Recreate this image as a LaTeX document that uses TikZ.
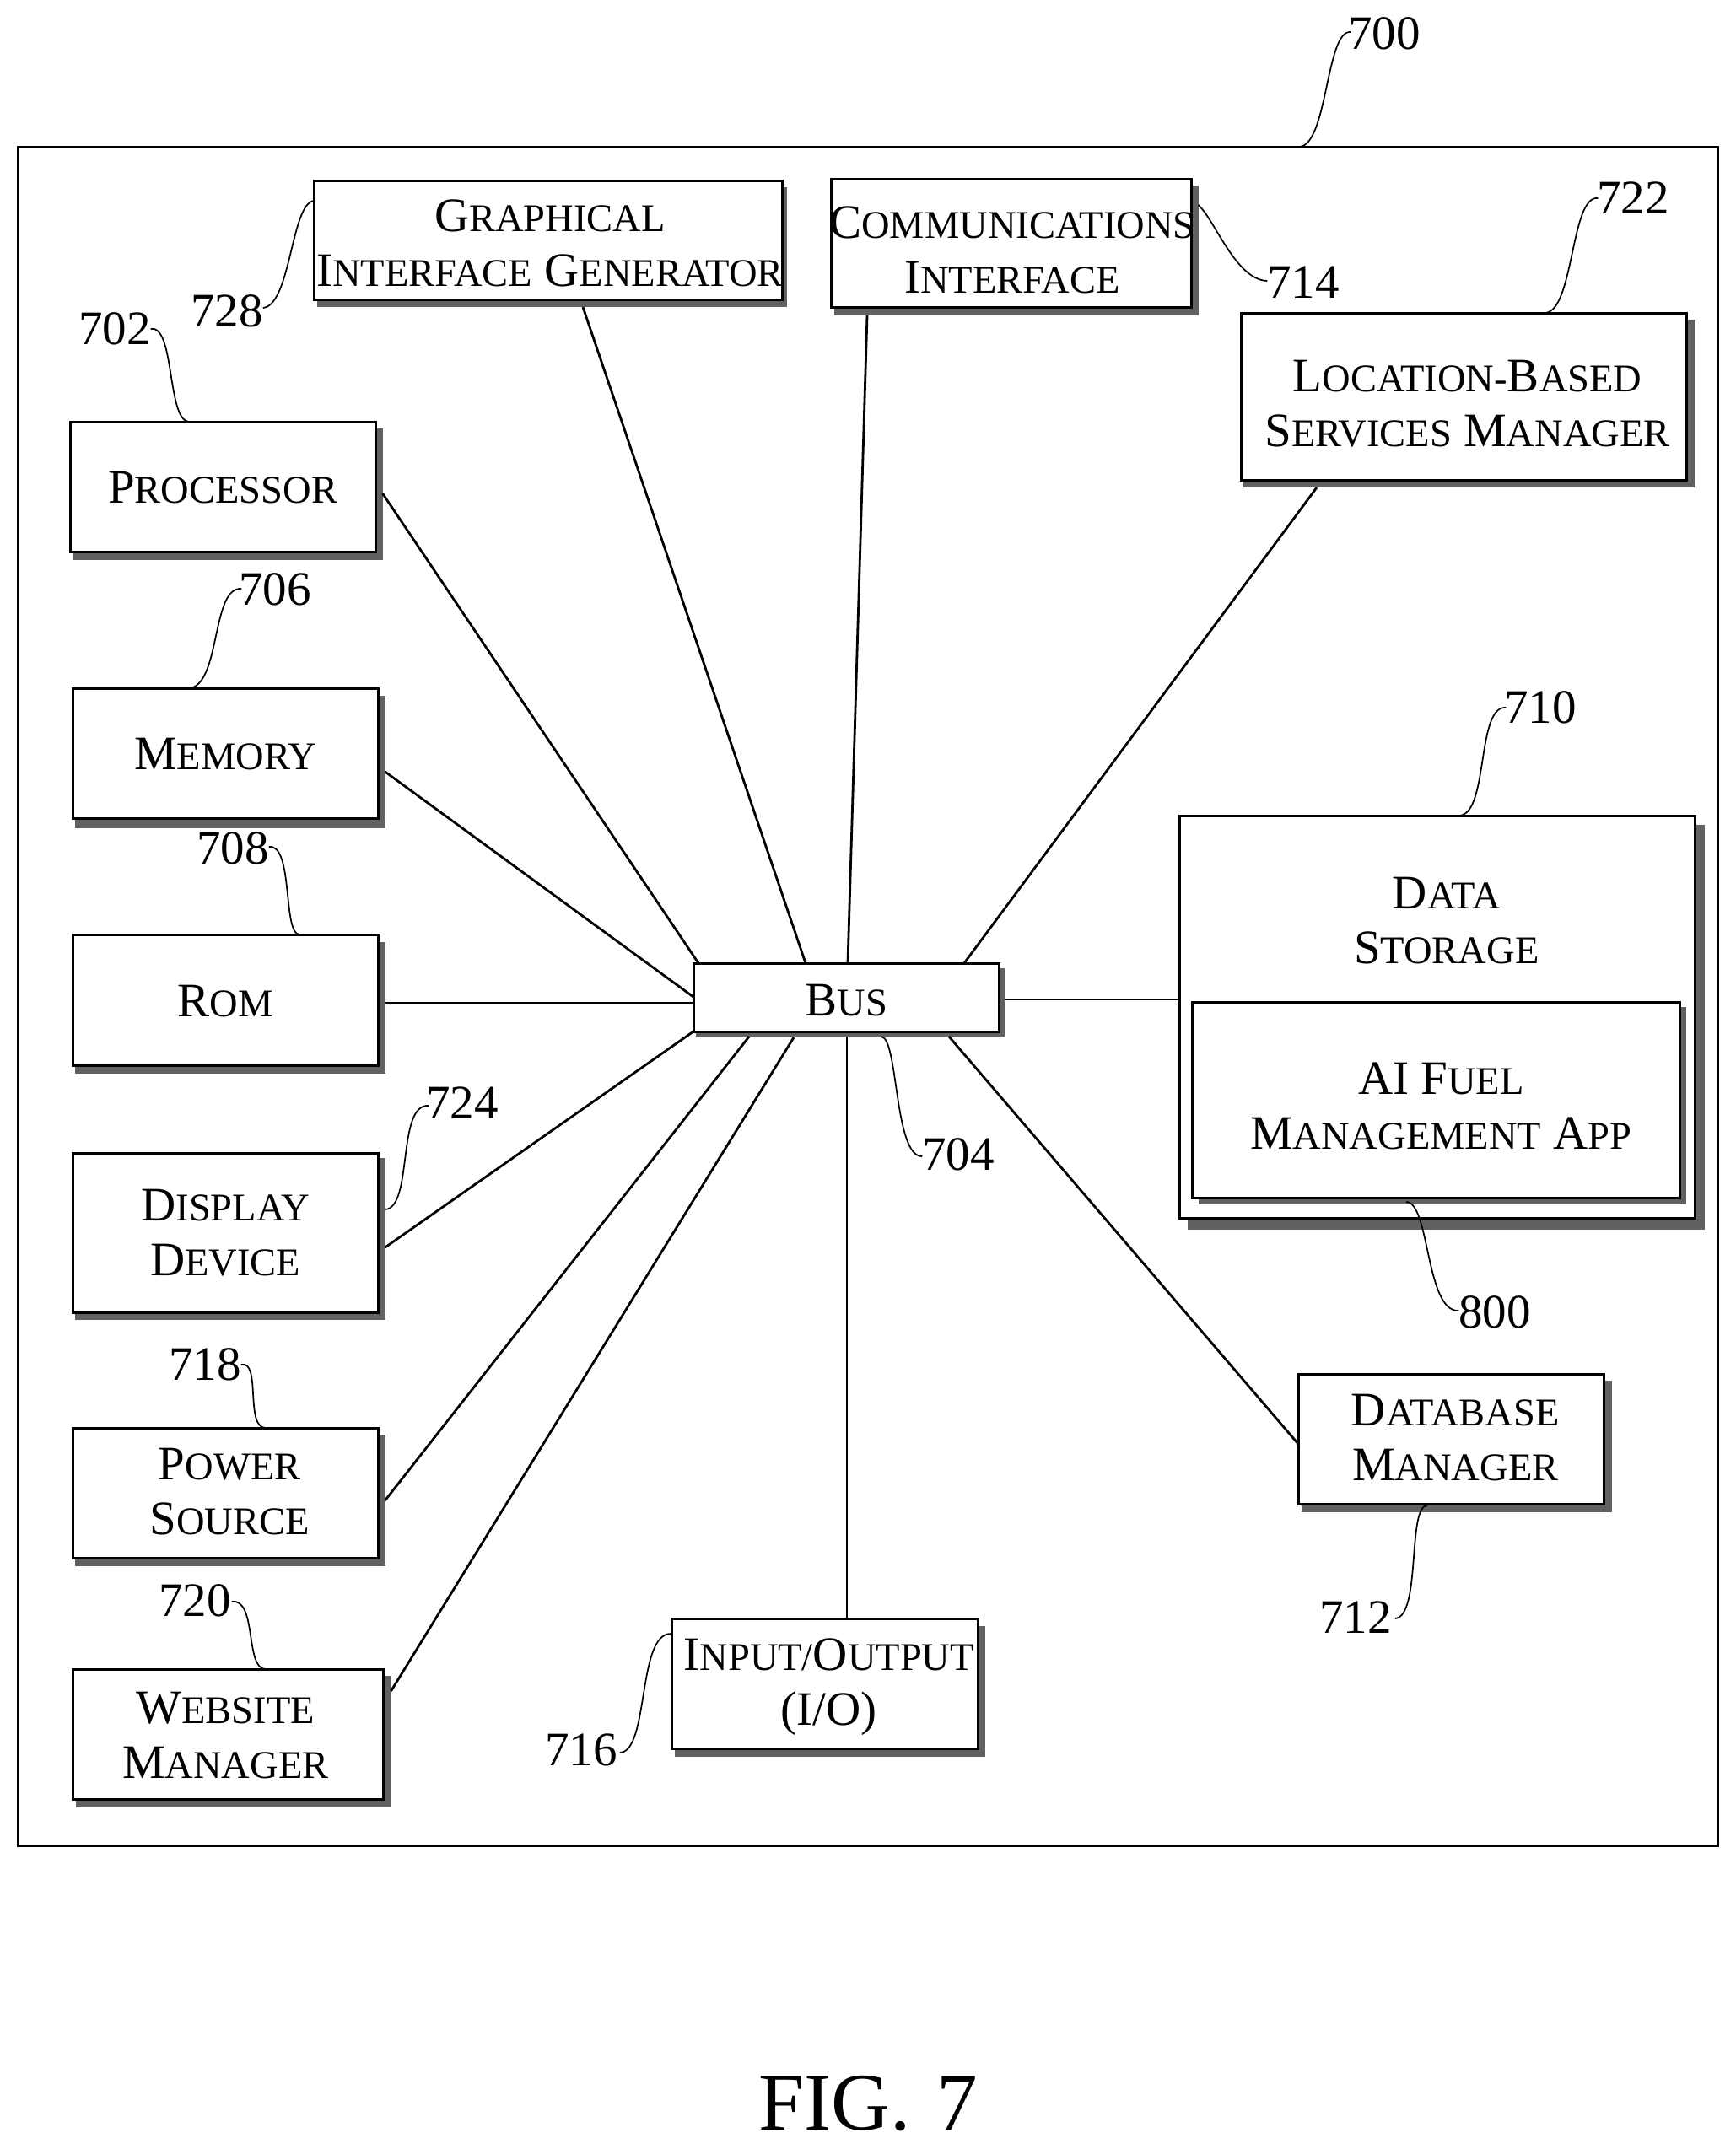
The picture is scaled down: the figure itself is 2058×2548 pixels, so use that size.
\documentclass[tikz,border=0pt]{standalone}
\usepackage{fontspec}
\setmainfont{Liberation Serif}
\newcommand\SC[2]{#1{\fontsize{46.5}{65}\selectfont\uppercase{#2}}}
\tikzset{
  lbl/.style={font=\fontsize{57}{65}\selectfont,align=center,inner sep=0pt,outer sep=0pt,text=black},
  boxnode/.style={draw=black,fill=white,line width=3pt,inner sep=0pt,outer sep=0pt},
  framenode/.style={draw=black,line width=2.6pt,inner sep=0pt,outer sep=0pt},
  shadowfill/.style={fill=black!62},
  conn/.style={draw=black,line width=2.8pt},
  lead/.style={draw=black,line width=1.7pt},
  fig/.style={font=\fontsize{97}{100}\selectfont,inner sep=0pt,outer sep=0pt}
}
\newcommand\shadowrect[4]{\fill[shadowfill] (#1,#2) rectangle ({#3-1},#4);}
\newcommand\bx[8]{%
  \pgfmathsetmacro\bw{#4-#2-1.5}\pgfmathsetmacro\bh{#5-#3}%
  \pgfmathsetmacro\bcx{(#2+#4-1.5)/2}\pgfmathsetmacro\bcy{(#3+#5)/2}%
  \pgfmathsetmacro\tdy{#7+1.5}%
  \node[boxnode,minimum width=\bw pt,minimum height=\bh pt,
    label={[lbl,xshift=#6pt,yshift=-\tdy pt]center:{#8}}] (#1) at (\bcx,\bcy) {};}
\begin{document}
\begin{tikzpicture}[x=1pt,y=-1pt]
\useasboundingbox (0,0) rectangle (2058,2548);
\fill[white] (0,0) rectangle (2058,2548);
\node[framenode,minimum width=2016pt,minimum height=2015pt] (frame) at (1029,1181.5) {};

\shadowrect{375.5}{222}{934}{364}
\bx{graph}{372.5}{214}{929}{355}{2}{2}{\SC{G}{raphical}\\\SC{I}{nterface} \SC{G}{enerator}}
\shadowrect{989}{220}{1422}{374}
\bx{comm}{985.5}{212}{1414}{364}{1}{7}{\SC{C}{ommunications}\\\SC{I}{nterface}}
\shadowrect{1474}{379}{2010}{578}
\bx{loc}{1471.5}{371}{2001}{569}{4}{7}{\SC{L}{ocation-}\SC{B}{ased}\\\SC{S}{ervices} \SC{M}{anager}}
\shadowrect{86}{508}{455}{664}
\bx{proc}{83}{500}{447}{654}{0}{0}{\SC{P}{rocessor}}
\shadowrect{89}{825}{458}{982}
\bx{mem}{86}{816}{450}{970}{0}{0}{\SC{M}{emory}}
\shadowrect{89}{1117}{458}{1273}
\bx{rom}{86}{1108}{450}{1263}{0}{0}{\SC{R}{om}}
\shadowrect{89}{1373}{458}{1565}
\bx{disp}{86}{1367}{450}{1556}{0}{-1}{\SC{D}{isplay}\\\SC{D}{evice}}
\shadowrect{89}{1702}{458}{1857}
\bx{pow}{86}{1693}{450}{1847}{5}{-3}{\SC{P}{ower}\\\SC{S}{ource}}
\shadowrect{90}{1987}{465}{2143}
\bx{web}{86}{1979}{456}{2133}{-3}{0}{\SC{W}{ebsite}\\\SC{M}{anager}}
\shadowrect{800}{1928}{1169}{2083}
\bx{io}{796}{1919}{1161}{2073}{5}{-3}{\SC{I}{nput/}\SC{O}{utput}\\\smash{(I/O)}}
\shadowrect{825}{1148}{1192}{1229}
\bx{bus}{822}{1142}{1186}{1223}{0}{2}{\SC{B}{us}}
\shadowrect{1408}{978}{2022}{1458}
\bx{data}{1398}{967}{2011}{1444}{11}{-115}{\SC{D}{ata}\\\SC{S}{torage}}
\shadowrect{1421}{1194}{2000}{1428}
\bx{ai}{1413}{1188}{1993}{1420}{6}{6}{AI \SC{F}{uel}\\\SC{M}{anagement} \SC{A}{pp}}
\shadowrect{1543}{1637}{1912}{1793}
\bx{db}{1539}{1629}{1903}{1783}{5}{-3}{\SC{D}{atabase}\\\SC{M}{anager}}

% connectors to the bus
\draw[conn] ([xshift=8pt,yshift=-85pt]proc.north east) -- ([xshift=6pt]bus.north west);
\draw[conn] ([xshift=318.5pt,yshift=-9pt]graph.south west) -- ([xshift=133pt]bus.north west);
\draw[conn] ([xshift=42.5pt,yshift=-10pt]comm.south west) -- ([xshift=183pt]bus.north west);
\draw[conn] ([xshift=89.5pt,yshift=-9pt]loc.south west) -- ([xshift=321pt]bus.north west);
\draw[conn] ([xshift=8pt,yshift=-99pt]mem.north east) -- ([yshift=-40pt]bus.north west);
\draw[conn] ([xshift=8pt,yshift=-3.5pt]rom.east) -- ([yshift=-6.5pt]bus.west);
\draw[conn] ([xshift=8pt,yshift=-112pt]disp.north east) -- (bus.south west);
\draw[conn] ([xshift=8pt,yshift=-86pt]pow.north east) -- ([xshift=66pt,yshift=-6pt]bus.south west);
\draw[conn] ([xshift=9pt,yshift=-26pt]web.north east) -- ([xshift=119pt,yshift=-7pt]bus.south west);
\draw[conn] ([xshift=208pt]io.north west) -- ([xshift=182pt,yshift=-6pt]bus.south west);
\draw[conn] ([yshift=-83pt]db.north west) -- ([xshift=303pt,yshift=-6pt]bus.south west);
\draw[conn] ([yshift=-218pt]data.north west) -- ([xshift=6pt,yshift=-43pt]bus.north east);

% reference numerals
\node[lbl] (n700) at (1641,40) {700};
\node[lbl] (n722) at (1936,235) {722};
\node[lbl] (n714) at (1545,335) {714};
\node[lbl] (n728) at (269,369) {728};
\node[lbl] (n702) at (136,390) {702};
\node[lbl] (n706) at (326,699) {706};
\node[lbl] (n708) at (276,1006) {708};
\node[lbl] (n724) at (548,1308) {724};
\node[lbl] (n718) at (243,1618) {718};
\node[lbl] (n720) at (231,1898) {720};
\node[lbl] (n710) at (1826,839) {710};
\node[lbl] (n800) at (1772,1556) {800};
\node[lbl] (n704) at (1136,1369) {704};
\node[lbl] (n712) at (1607,1918) {712};
\node[lbl] (n716) at (689,2075) {716};

% leaders
\draw[lead] ([xshift=3pt,yshift=2pt]n700.west) .. controls (1572,35) and (1574,170) .. ([xshift=1520pt]frame.north west);
\draw[lead] ([xshift=1pt]n722.west) .. controls (1862,231) and (1866,368) .. ([xshift=360.5pt]loc.north west);
\draw[lead] ([yshift=2pt]n714.west) .. controls (1465,332) and (1440,260) .. ([xshift=8pt,yshift=-31pt]comm.north east);
\draw[lead] ([yshift=4pt]n728.east) .. controls (345,362) and (345,240) .. ([yshift=-24pt]graph.north west);
\draw[lead] (n702.east) .. controls (207,385) and (198,495) .. ([xshift=140pt]proc.north west);
\draw[lead] ([xshift=3pt,yshift=1pt]n706.west) .. controls (250,695) and (262,815) .. ([xshift=137pt]mem.north west);
\draw[lead] ([yshift=2pt]n708.east) .. controls (348,1000) and (335,1108) .. ([xshift=269pt]rom.north west);
\draw[lead] ([xshift=3pt,yshift=-3pt]n724.west) .. controls (470,1308) and (490,1432) .. ([xshift=8pt,yshift=-67pt]disp.north east);
\draw[lead] (n718.east) .. controls (310,1612) and (290,1693) .. ([xshift=229pt]pow.north west);
\draw[lead] ([xshift=1pt,yshift=-1pt]n720.east) .. controls (305,1895) and (290,1979) .. ([xshift=229pt]web.north west);
\draw[lead] ([xshift=2pt]n710.west) .. controls (1750,836) and (1765,965) .. ([xshift=332pt]data.north west);
\draw[lead] ([yshift=2pt]n800.west) .. controls (1690,1556) and (1695,1425) .. ([xshift=254pt,yshift=-5pt]ai.south west);
\draw[lead] ([yshift=-2pt]n704.west) .. controls (1060,1372) and (1065,1232) .. ([xshift=223pt,yshift=-6pt]bus.south west);
\draw[lead] ([xshift=4pt,yshift=-1pt]n712.east) .. controls (1685,1917) and (1668,1785) .. ([xshift=153pt,yshift=-2pt]db.south west);
\draw[lead] ([xshift=3pt,yshift=-3pt]n716.east) .. controls (770,2077) and (755,1935) .. ([yshift=-18pt]io.north west);

\node[fig] (figcap) at (1029,2494.5) {FIG.\hspace{6pt} 7};
\end{tikzpicture}
\end{document}
